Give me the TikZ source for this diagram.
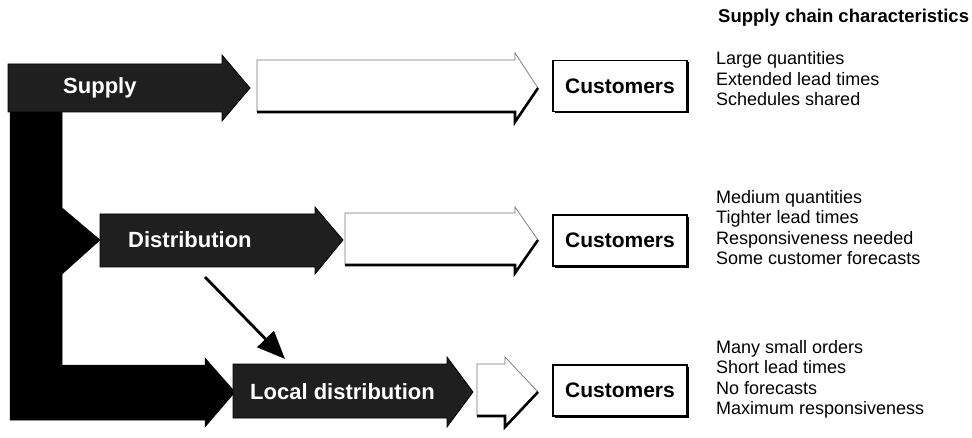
\documentclass[tikz,border=0pt]{standalone}
\usepackage{fontspec}
\setmainfont{Liberation Sans}
\usetikzlibrary{arrows.meta,shadows}
\begin{document}
\begin{tikzpicture}[x=1pt,y=-1pt,
  darkarrow/.style={fill=black!88,draw=black,line width=0.8pt},
  blackshape/.style={fill=black,draw=black,line width=0.5pt},
  openarrow/.style={draw=black!55,line width=0.7pt},
  openbase/.style={draw=black,line width=2.6pt},
  label/.style={text=white,font=\bfseries\fontsize{22}{24}\selectfont,anchor=west,inner sep=0pt},
  custbox/.style={draw=black,line width=1.4pt,fill=white,minimum width=134pt,minimum height=51pt,
    font=\bfseries\fontsize{21}{24}\selectfont,inner sep=0pt,
    drop shadow={opacity=1,fill=black,shadow xshift=1.8pt,shadow yshift=-1.8pt}},
  listtext/.style={anchor=west,align=left,inner sep=0pt,font=\fontsize{18}{20.5}\selectfont},
  connector/.style={line width=2.8pt,-{Triangle[length=28pt,width=23pt]}}
]
\useasboundingbox (0,0) rectangle (972,438);

% black L-shaped bar with arrow heads
\path[blackshape] (10,108) -- (62,108) -- (62,365) -- (205,365) -- (205,358) -- (235,392)
  -- (205,427) -- (205,420) -- (10,420) -- cycle;
\path[blackshape] (61,207) -- (100,240) -- (61,275) -- cycle;

% row 1
\path[darkarrow] (8,64) -- (222,64) -- (222,55) -- (250,88) -- (222,121) -- (222,112) -- (8,112) -- cycle;
\path[openarrow] (257,112) -- (257,60) -- (515,60) -- (515,53) -- (538,88);
\path[openbase] (257,112) -- (515,112) -- (515,122) -- (538,88);
\node[label] (supply) at (63,88) {Supply};

% row 2
\path[darkarrow] (100,214) -- (315,214) -- (315,207) -- (343,240) -- (315,274) -- (315,267) -- (100,267) -- cycle;
\path[openarrow] (345,265) -- (345,213) -- (515,213) -- (515,207) -- (538,240);
\path[openbase] (345,265) -- (515,265) -- (515,273) -- (538,240);
\node[label] (dist) at (128,240) {Distribution};

% row 3
\path[darkarrow] (233,364) -- (447,364) -- (447,357) -- (473,392) -- (447,427) -- (447,418) -- (233,418) -- cycle;
\path[openarrow] (477,416) -- (477,364) -- (505,364) -- (505,357) -- (538,392);
\path[openbase] (477,416) -- (505,416) -- (505,427) -- (538,392);
\node[label] (local) at (250,392) {Local distribution};

% diagonal connector
\coordinate (dtail) at (205,277);
\coordinate (dhead) at (285,359);
\draw[connector] (dtail) -- (dhead);

% customers boxes
\node[custbox] (c1) at (620,86) {Customers};
\node[custbox] (c2) at (620,240.5) {Customers};
\node[custbox] (c3) at (620,390.5) {Customers};

% characteristics
\node[anchor=west,inner sep=0pt,font=\bfseries\fontsize{18.5}{20}\selectfont] (title) at (718,18) {Supply chain characteristics};
\node[listtext] (t1) at (716,79) {Large quantities\\Extended lead times\\Schedules shared};
\node[listtext] (t2) at (716,227.5) {Medium quantities\\Tighter lead times\\Responsiveness needed\\Some customer forecasts};
\node[listtext] (t3) at (716,379.5) {Many small orders\\Short lead times\\No forecasts\\Maximum responsiveness};
\end{tikzpicture}
\end{document}
